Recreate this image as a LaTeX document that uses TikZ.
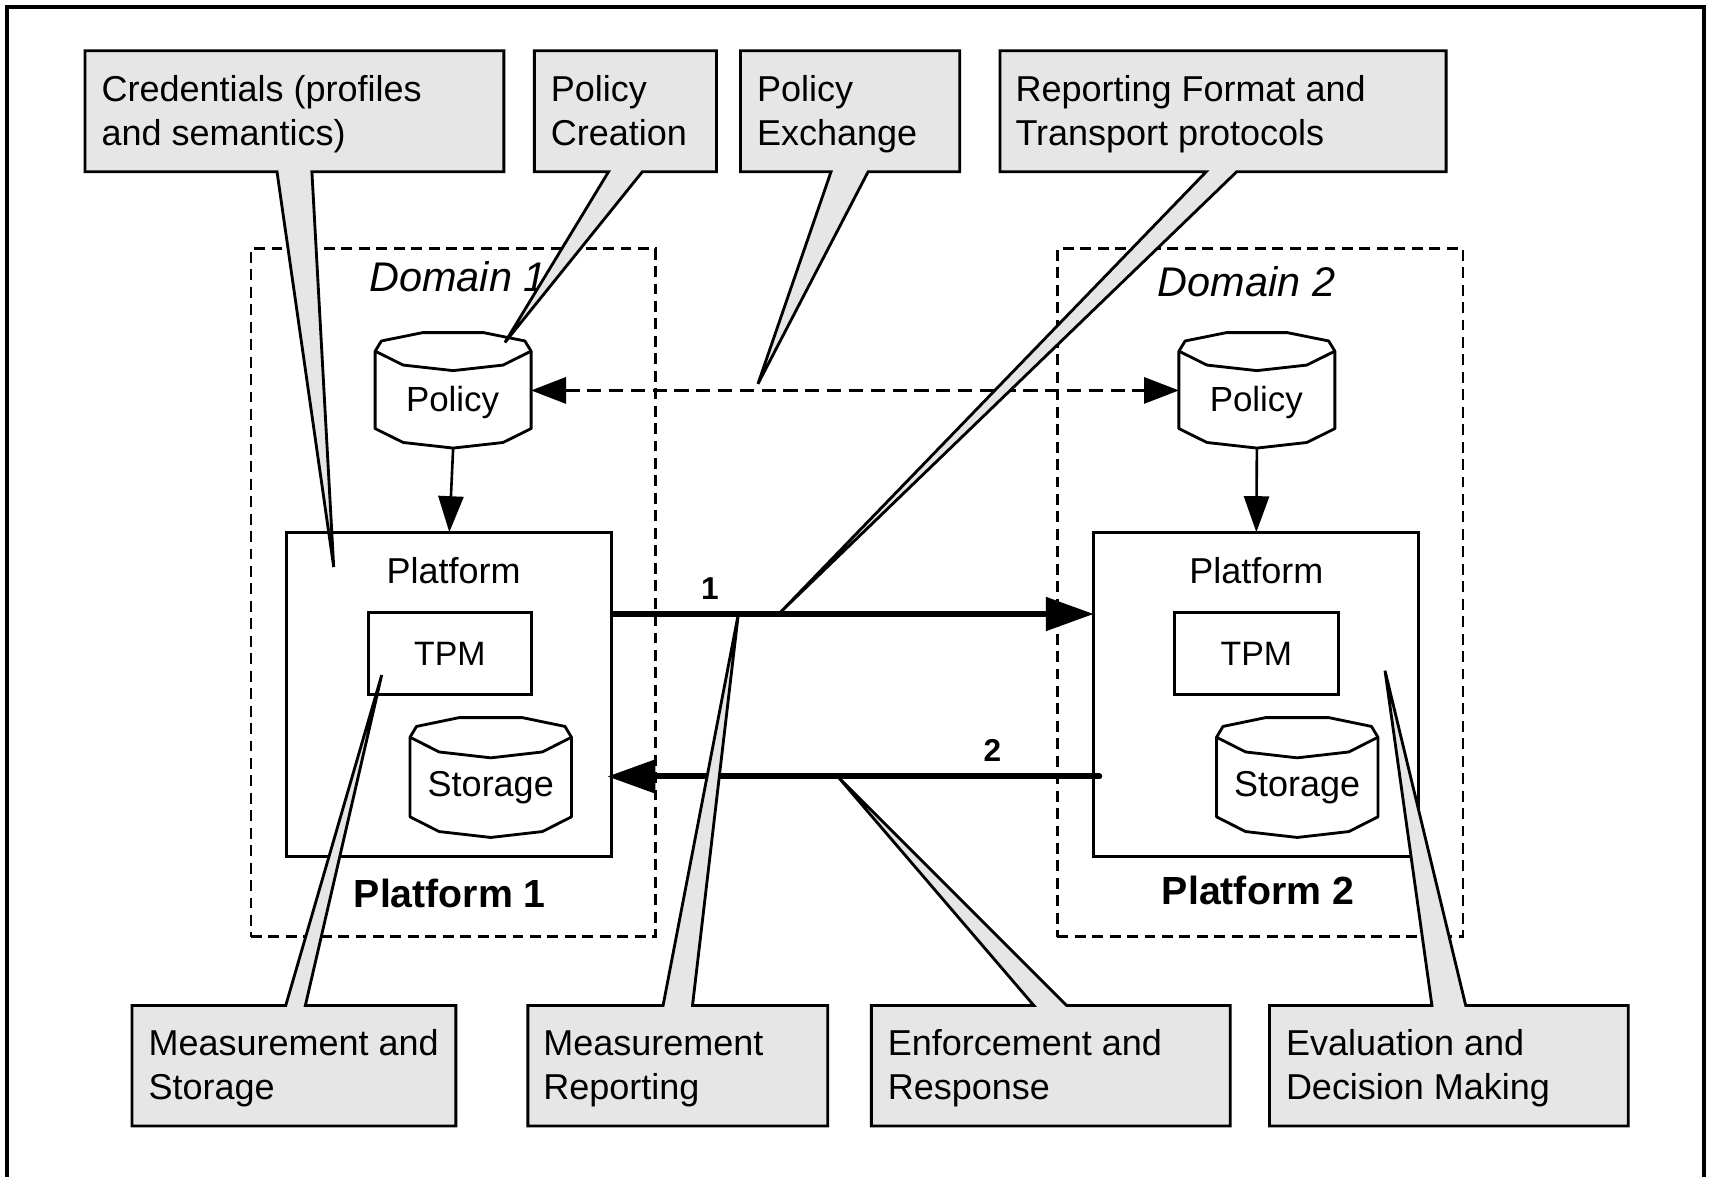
\documentclass[tikz,border=0pt]{standalone}
\usepackage{fontspec}
\setmainfont{Liberation Sans}
\usetikzlibrary{arrows.meta}
\definecolor{cgray}{RGB}{230,230,230}
\newcommand\mycyl[5]{% cx, top-cap centre y, bottom-cap centre y, half width, cap half height
  \filldraw[cylline]
    ({#1-#4},{#2}) -- ({#1-0.92*#4},{#2-0.55*#5}) -- ({#1-0.39*#4},{#2-#5}) --
    ({#1+0.39*#4},{#2-#5}) -- ({#1+0.92*#4},{#2-0.55*#5}) -- ({#1+#4},{#2}) --
    ({#1+#4},{#3}) -- ({#1+0.64*#4},{#3+0.75*#5}) -- ({#1},{#3+1.05*#5}) --
    ({#1-0.64*#4},{#3+0.75*#5}) -- ({#1-#4},{#3}) -- cycle;
  \draw[cylline]
    ({#1-#4},{#2}) -- ({#1-0.64*#4},{#2+0.75*#5}) -- ({#1},{#2+1.05*#5}) --
    ({#1+0.64*#4},{#2+0.75*#5}) -- ({#1+#4},{#2});
}
\begin{document}
\begin{tikzpicture}[x=1pt,y=-1pt,
  cylline/.style={draw=black, fill=white, line width=2.6pt, line join=round},
  pbox/.style={draw=black, line width=2.8pt, inner sep=0pt, outer sep=0pt},
  dbox/.style={draw=black, line width=2.4pt, dash pattern=on 10pt off 6pt, inner sep=0pt, outer sep=0pt},
  ghost/.style={draw=none, inner sep=0pt, outer sep=0pt},
  callout/.style={draw=black, fill=cgray, line width=2.6pt, line join=miter},
  ct/.style={anchor=base west, inner sep=0pt, font=\fontsize{33pt}{40pt}\selectfont},
  lbl/.style={anchor=base, inner sep=0pt, font=\fontsize{33pt}{40pt}\selectfont},
  thinarrow/.style={draw=black, line width=2.4pt, -{Triangle[length=33pt,width=23pt]}},
  dasharrow/.style={draw=black, line width=2.4pt, dash pattern=on 13pt off 7pt,
     {Triangle[length=32pt,width=24pt]}-{Triangle[length=32pt,width=24pt]}},
  bigarrow/.style={draw=black, line width=5.5pt, -{Triangle[length=44pt,width=30pt]}},
  frame/.style={draw=black, line width=3pt}
]
\useasboundingbox (0,0) rectangle (1568,1079);

% outer frame
\draw[frame] (6.5,1079) -- (6.5,6.5) -- (1562.5,6.5) -- (1562.5,1079);

% domains
\node[dbox, minimum width=371pt, minimum height=631pt] (dom1) at (415.5,543.5) {};
\node[dbox, minimum width=372pt, minimum height=631pt] (dom2) at (1155.5,543.5) {};
\node[lbl, font=\fontsize{38pt}{44pt}\selectfont\itshape] (dom1t) at (420,267) {Domain 1};
\node[lbl, font=\fontsize{38pt}{44pt}\selectfont\itshape] (dom2t) at (1143,272) {Domain 2};

% policy cylinders
\mycyl{415.5}{322}{393}{71.5}{17}
\mycyl{1152.5}{322}{393}{71.5}{17}
\node[ghost, minimum width=143pt, minimum height=106pt] (pol1) at (415.5,358) {};
\node[ghost, minimum width=143pt, minimum height=106pt] (pol2) at (1152.5,358) {};
\node[lbl, font=\fontsize{32pt}{40pt}\selectfont] (pol1t) at (415,377) {Policy};
\node[lbl, font=\fontsize{32pt}{40pt}\selectfont] (pol2t) at (1152,377) {Policy};

% platforms
\node[pbox, minimum width=298pt, minimum height=297pt] (plat1) at (412,636.5) {};
\node[pbox, minimum width=298pt, minimum height=297pt] (plat2) at (1152,636.5) {};
\node[lbl] (plat1t) at (416,535) {Platform};
\node[lbl] (plat2t) at (1152,535) {Platform};
\node[pbox, minimum width=149pt, minimum height=75pt, font=\fontsize{31pt}{40pt}\selectfont] (tpm1) at (412.5,599.5) {TPM};
\node[pbox, minimum width=150pt, minimum height=75pt, font=\fontsize{31pt}{40pt}\selectfont] (tpm2) at (1152,599.5) {TPM};

% storage cylinders
\mycyl{450}{676}{749}{74}{18}
\mycyl{1189.5}{676}{749}{74}{18}
\node[lbl] (sto1) at (450,730) {Storage};
\node[lbl] (sto2) at (1189.5,730) {Storage};

\node[lbl, font=\fontsize{36pt}{40pt}\selectfont\bfseries] (p1lab) at (412.5,832) {Platform 1};
\node[lbl, font=\fontsize{36pt}{40pt}\selectfont\bfseries] (p2lab) at (1153.5,829) {Platform 2};

% connectors
\draw[thinarrow] (pol1.south) -- (plat1.north);
\draw[thinarrow] (pol2.south) -- (plat2.north);
\draw[dasharrow] (pol1.east) -- (pol2.west);
\coordinate (a1) at (0,563);
\coordinate (a2) at (0,712);
\draw[bigarrow] (plat1.east |- a1) -- (plat2.west |- a1);
\draw[bigarrow, line cap=round, shorten <=-5pt, shorten >=-4pt] (plat2.west |- a2) -- (plat1.east |- a2);
\node[lbl, font=\fontsize{29pt}{40pt}\selectfont\bfseries] (n1) at (651,550) {1};
\node[lbl, font=\fontsize{29pt}{40pt}\selectfont\bfseries] (n2) at (910,698) {2};

% callouts (top)
\draw[callout] (78,46.5) -- (462,46.5) -- (462,157.5) -- (286,157.5) -- (306,520) -- (254,157.5) -- (78,157.5) -- cycle;
\draw[callout] (490,46.5) -- (657,46.5) -- (657,157.5) -- (589,157.5) -- (463,314) -- (558,157.5) -- (490,157.5) -- cycle;
\draw[callout] (679,46.5) -- (880,46.5) -- (880,157.5) -- (796,157.5) -- (695,352) -- (762,157.5) -- (679,157.5) -- cycle;
\draw[callout] (917,46.5) -- (1326,46.5) -- (1326,157.5) -- (1134,157.5) -- (716,561) -- (1106,157.5) -- (917,157.5) -- cycle;
% callouts (bottom)
\draw[callout] (121,922) -- (262,922) -- (350,619) -- (280,922) -- (418,922) -- (418,1032.5) -- (121,1032.5) -- cycle;
\draw[callout] (484,922) -- (608,922) -- (677,563) -- (635,922) -- (759,922) -- (759,1032.5) -- (484,1032.5) -- cycle;
\draw[callout] (799,922) -- (948,922) -- (769,713) -- (978,922) -- (1128,922) -- (1128,1032.5) -- (799,1032.5) -- cycle;
\draw[callout] (1164,922) -- (1313,922) -- (1270,615) -- (1344,922) -- (1493,922) -- (1493,1032.5) -- (1164,1032.5) -- cycle;

% callout texts
\node[ct] (c1a) at (93,93) {Credentials (profiles};
\node[ct] (c1b) at (93,133) {and semantics)};
\node[ct] (c2a) at (505,93) {Policy};
\node[ct] (c2b) at (505,133) {Creation};
\node[ct] (c3a) at (694,93) {Policy};
\node[ct] (c3b) at (694,133) {Exchange};
\node[ct] (c4a) at (931,93) {Reporting Format and};
\node[ct] (c4b) at (931,133) {Transport protocols};
\node[ct] (c5a) at (136,968) {Measurement and};
\node[ct] (c5b) at (136,1008) {Storage};
\node[ct] (c6a) at (498,968) {Measurement};
\node[ct] (c6b) at (498,1008) {Reporting};
\node[ct] (c7a) at (814,968) {Enforcement and};
\node[ct] (c7b) at (814,1008) {Response};
\node[ct] (c8a) at (1179,968) {Evaluation and};
\node[ct] (c8b) at (1179,1008) {Decision Making};
\end{tikzpicture}
\end{document}
